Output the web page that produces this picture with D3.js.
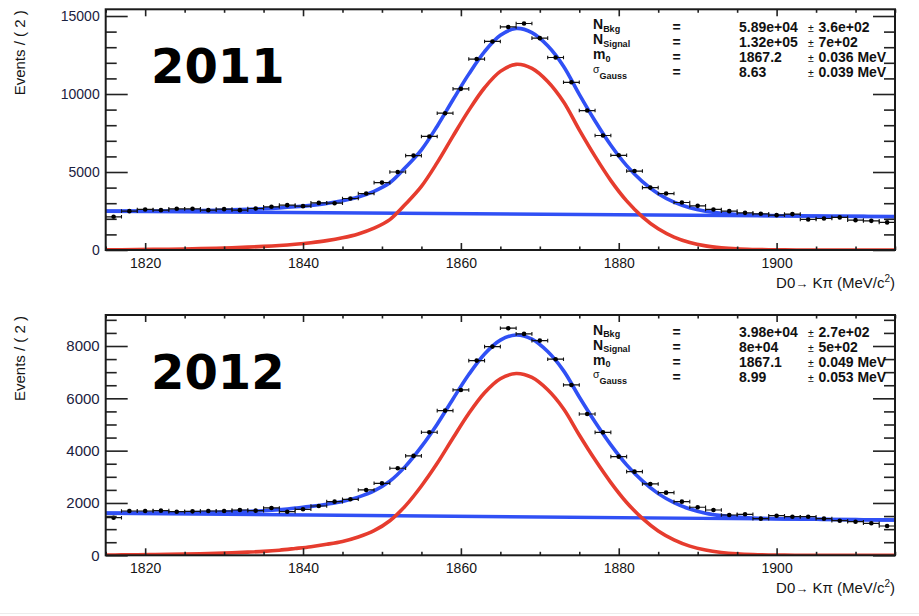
<!DOCTYPE html>
<html><head><meta charset="utf-8">
<script src="https://cdn.jsdelivr.net/npm/d3@7"></script>
<style>
body{margin:0;background:#fff;}
svg{display:block;font-family:"Liberation Sans",Arial,Helvetica,sans-serif;}
</style>
</head><body>
<svg id="chart" width="919" height="616"></svg>
<script>
// ---------------- DATA ----------------
const years = ["2011", "2012"];
const binCenters = d3.range(1816, 1915, 2);      // 50 bins, 2 MeV wide
const curveMass = d3.range(1815, 1916, 2);       // sampling points of the fit curves
const bkgMass = [1815, 1915];

const data2011 = [2127,2490,2600,2555,2640,2640,2555,2620,2555,2660,2770,2875,2810,3020,3000,3300,3620,4320,5000,6050,
  7280,8770,10330,12240,13370,14300,14520,13580,12340,10750,8940,7340,6070,5060,4000,3620,3045,2830,2600,2490,
  2380,2320,2235,2300,1960,2020,2090,1915,1870,1770];
const signal2011 = [15,20,28,38,50,65,85,110,145,185,230,290,370,470,600,780,1030,1400,1950,2950,
  4080,5600,7300,8950,10400,11450,11900,11640,10800,9500,7700,6000,4450,3150,2130,1360,830,480,265,140,
  70,35,16,8,4,2,1,0,0,0,0];
const total2011 = [2495,2493,2494,2498,2503,2511,2524,2542,2571,2604,2642,2695,2768,2862,2985,3158,3401,3764,4308,5301,
  6424,7937,9630,11274,12717,13760,14203,13936,13090,11783,9976,8269,6712,5406,4379,3602,3065,2708,2487,2355,
  2278,2236,2210,2196,2185,2176,2168,2160,2154,2147,2140];
const bkg2011 = [2480, 2140];

const data2012 = [1438,1694,1694,1706,1667,1680,1694,1694,1732,1706,1809,1667,1759,1885,2050,2141,2497,2753,3327,3800,
  4703,5530,6321,7442,7977,8681,8463,8207,7495,6512,5400,4700,3771,3197,2727,2394,2050,1836,1732,1541,
  1568,1400,1514,1476,1476,1400,1323,1285,1224,1120];
const signal2012 = [11,15,20,27,35,45,58,75,95,120,150,195,260,330,420,530,700,940,1320,1900,
  2650,3515,4483,5420,6212,6748,6950,6797,6326,5603,4600,3650,2780,2020,1410,930,590,350,200,110,
  57,28,13,6,3,1,0,0,0,0,0];
const total2012 = [1617,1616,1616,1618,1621,1625,1633,1645,1660,1680,1705,1745,1805,1869,1954,2059,2224,2459,2834,3409,
  4154,5013,5976,6908,7695,8226,8423,8265,7789,7060,6052,5097,4222,3457,2842,2357,2012,1767,1611,1516,
  1458,1424,1404,1392,1384,1377,1370,1365,1360,1355,1350];
const bkg2012 = [1606, 1350];

const xMajorTicks = [1820, 1840, 1860, 1880, 1900];
const xMinorTicks = [1815,1825,1830,1835,1845,1850,1855,1865,1870,1875,1885,1890,1895,1905,1910,1915];
const yMajor2011 = [0, 5000, 10000, 15000];
const yMinor2011 = [1000,2000,3000,4000,6000,7000,8000,9000,11000,12000,13000,14000];
const yMajor2012 = [0, 2000, 4000, 6000, 8000];
const yMinor2012 = [500,1000,1500,2500,3000,3500,4500,5000,5500,6500,7000,7500,8500,9000];

const statNames = [["N","Bkg"],["N","Signal"],["m","0"],["σ","Gauss"]];
const statValues2011 = ["5.89e+04","1.32e+05","1867.2","8.63"];
const statErrors2011 = ["3.6e+02","7e+02","0.036 MeV","0.039 MeV"];
const statValues2012 = ["3.98e+04","8e+04","1867.1","8.99"];
const statErrors2012 = ["2.7e+02","5e+02","0.049 MeV","0.053 MeV"];

const yTitle = "Events / ( 2 )";

// ---------------- DRAW ----------------
const svg = d3.select("#chart");
const BLUE = "#3050f5", RED = "#e63c2e", INK = "#151515";
const x = d3.scaleLinear().domain([1815, 1915]).range([105.7, 895]);

const panels = [
  {year: years[0], top: 9.3, bottom: 250, ymax: 15430, data: data2011, sig: signal2011, tot: total2011, bkg: bkg2011,
   yMajor: yMajor2011, yMinor: yMinor2011, vals: statValues2011, errs: statErrors2011, yFont: 14},
  {year: years[1], top: 315, bottom: 555.3, ymax: 9185, data: data2012, sig: signal2012, tot: total2012, bkg: bkg2012,
   yMajor: yMajor2012, yMinor: yMinor2012, vals: statValues2012, errs: statErrors2012, yFont: 15}
];

panels.forEach(p => {
  const g = svg.append("g");
  const y = d3.scaleLinear().domain([0, p.ymax]).range([p.bottom, p.top]);
  const clipId = "clip" + p.year;
  svg.append("clipPath").attr("id", clipId).append("rect")
    .attr("x", x.range()[0]).attr("y", p.top).attr("width", x.range()[1]-x.range()[0]).attr("height", p.bottom-p.top);

  const plot = g.append("g").attr("clip-path", `url(#${clipId})`);
  const line = d3.line().x(d=>x(d[0])).y(d=>y(d[1])).curve(d3.curveCatmullRom.alpha(0.5));

  plot.append("path").datum(bkgMass.map((m,i)=>[m, p.bkg[i]]))
    .attr("d", d3.line().x(d=>x(d[0])).y(d=>y(d[1])))
    .attr("fill","none").attr("stroke",BLUE).attr("stroke-width",3.4);
  plot.append("path").datum(curveMass.map((m,i)=>[m, p.sig[i]]))
    .attr("d", line).attr("fill","none").attr("stroke",RED).attr("stroke-width",3.6).attr("stroke-linejoin","round");
  plot.append("path").datum(curveMass.map((m,i)=>[m, p.tot[i]]))
    .attr("d", line).attr("fill","none").attr("stroke",BLUE).attr("stroke-width",3.6).attr("stroke-linejoin","round");

  const pts = plot.append("g").selectAll("g").data(binCenters.map((m,i)=>[m, p.data[i]])).join("g");
  pts.append("line").attr("x1", d=>x(d[0]-1)).attr("x2", d=>x(d[0]+1))
    .attr("y1", d=>y(d[1])).attr("y2", d=>y(d[1])).attr("stroke","#111").attr("stroke-width",1.2);
  [-1, 1].forEach(s => {
    pts.append("line").attr("x1", d=>x(d[0]+s)).attr("x2", d=>x(d[0]+s))
      .attr("y1", d=>y(d[1])-1.8).attr("y2", d=>y(d[1])+1.8).attr("stroke","#111").attr("stroke-width",1.1);
  });
  pts.append("circle").attr("cx", d=>x(d[0])).attr("cy", d=>y(d[1])).attr("r", 2.3).attr("fill","#000");

  const tickStyle = sel => { sel.select(".domain").remove(); sel.selectAll("line").attr("stroke","#222").attr("stroke-width",1.6); };
  g.append("g").attr("transform",`translate(0,${p.bottom})`)
    .call(d3.axisBottom(x).tickValues(xMajorTicks).tickSizeInner(-7).tickSizeOuter(0).tickPadding(8).tickFormat(d3.format("d")))
    .call(tickStyle)
    .call(s => s.selectAll("text").attr("font-size",14).attr("fill",INK).attr("font-family","Liberation Sans, Arial, sans-serif"));
  g.append("g").attr("transform",`translate(0,${p.bottom})`)
    .call(d3.axisBottom(x).tickValues(xMinorTicks).tickSize(-3.5).tickFormat("")).call(tickStyle);
  g.append("g").attr("transform",`translate(0,${p.top})`)
    .call(d3.axisTop(x).tickValues(xMajorTicks).tickSize(-7).tickFormat("")).call(tickStyle);
  g.append("g").attr("transform",`translate(0,${p.top})`)
    .call(d3.axisTop(x).tickValues(xMinorTicks).tickSize(-3.5).tickFormat("")).call(tickStyle);

  g.append("g").attr("transform",`translate(${x.range()[0]},0)`)
    .call(d3.axisLeft(y).tickValues(p.yMajor).tickSizeInner(-22).tickSizeOuter(0).tickPadding(6).tickFormat(d3.format("d")))
    .call(tickStyle)
    .call(s => s.selectAll("text").attr("font-size",p.yFont).attr("fill","#1a2140").attr("font-family","Liberation Sans, Arial, sans-serif"));
  g.append("g").attr("transform",`translate(${x.range()[0]},0)`)
    .call(d3.axisLeft(y).tickValues(p.yMinor).tickSize(-11).tickFormat("")).call(tickStyle);
  g.append("g").attr("transform",`translate(${x.range()[1]},0)`)
    .call(d3.axisRight(y).tickValues(p.yMajor).tickSize(-22).tickFormat("")).call(tickStyle);
  g.append("g").attr("transform",`translate(${x.range()[1]},0)`)
    .call(d3.axisRight(y).tickValues(p.yMinor).tickSize(-11).tickFormat("")).call(tickStyle);

  g.append("rect").attr("x", x.range()[0]).attr("y", p.top)
    .attr("width", x.range()[1]-x.range()[0]).attr("height", p.bottom-p.top)
    .attr("fill","none").attr("stroke","#1a1a1a").attr("stroke-width",2);

  g.append("text").attr("x", 151).attr("y", p.top + 74).text(p.year)
    .attr("font-family","DejaVu Sans").attr("font-weight","bold").attr("font-size",48).attr("fill","#000");

  g.append("text").attr("transform",`translate(25,${p.top+1}) rotate(-90)`).attr("text-anchor","end")
    .attr("font-size",15).attr("fill",INK).text(yTitle);
  const xt = g.append("text").attr("x", 895).attr("y", p.bottom + 38).attr("text-anchor","end")
    .attr("font-size",15).attr("fill",INK);
  xt.append("tspan").text("D0");
  xt.append("tspan").text("→").attr("font-size",13);
  xt.append("tspan").text(" Kπ (MeV/c");
  xt.append("tspan").text("2").attr("font-size",10).attr("dy",-6);
  xt.append("tspan").text(")").attr("dy",6);

  const st = g.append("g").attr("font-weight","bold").attr("fill","#111");
  statNames.forEach((nm, i) => {
    const base = p.top + 22.2 + i*15;
    const t = st.append("text").attr("x", 593).attr("y", base - 2.5);
    if (nm[0] === "σ") {
      t.append("tspan").text(nm[0]).attr("font-size",10.5).attr("dy",-1.5).attr("font-weight","normal");
      t.append("tspan").text(nm[1]).attr("font-size",9).attr("dy",6);
    } else {
      t.append("tspan").text(nm[0]).attr("font-size",14);
      t.append("tspan").text(nm[1]).attr("font-size",9).attr("dy",2.5);
    }
    st.append("text").attr("x",676.5).attr("y",base).attr("text-anchor","middle").attr("font-size",14).text("=");
    st.append("text").attr("x",739).attr("y",base).attr("font-size",14).text(p.vals[i]);
    st.append("text").attr("x",808).attr("y",base).attr("font-size",10.5).attr("font-weight","normal").text("±");
    st.append("text").attr("x",818.5).attr("y",base).attr("font-size",14).text(p.errs[i]);
  });
});

svg.append("line").attr("x1",0).attr("x2",919).attr("y1",613.5).attr("y2",613.5).attr("stroke","#ececec").attr("stroke-width",1);
</script>
</body></html>
